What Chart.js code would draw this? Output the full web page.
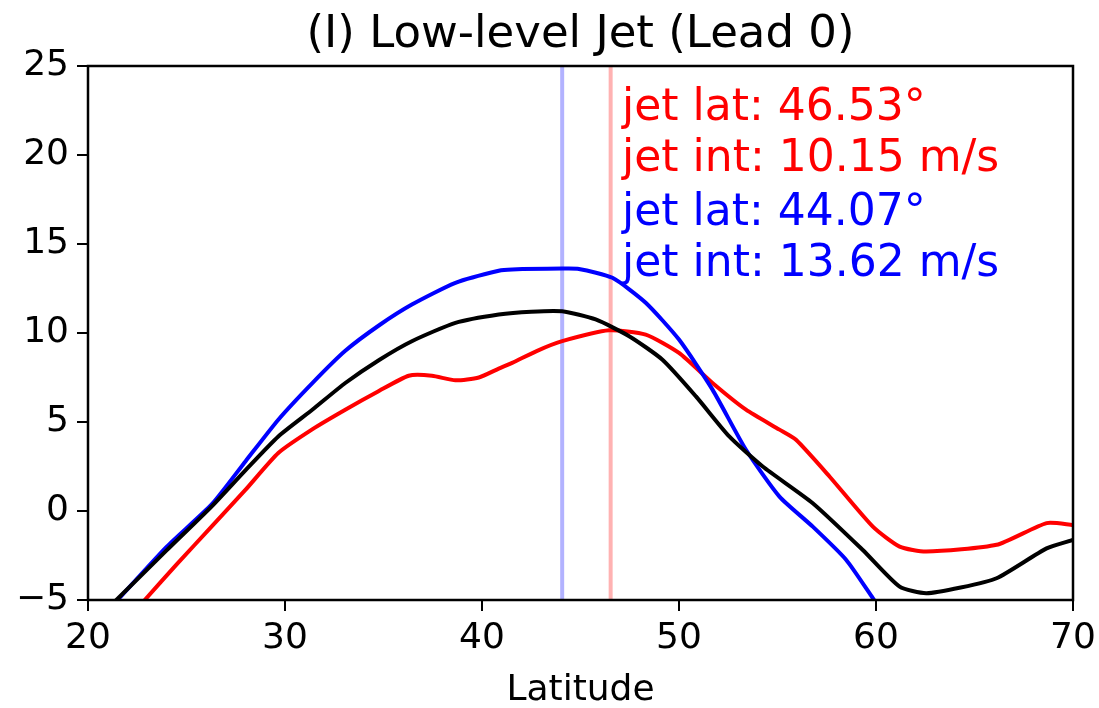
<!DOCTYPE html>
<html>
<head>
<meta charset="utf-8">
<script src="https://cdn.jsdelivr.net/npm/chart.js@4"></script>
<style>
  html, body { margin: 0; padding: 0; background: #fff; }
  #wrap { width: 1099px; height: 708px; }
</style>
</head>
<body>
<div id="wrap"><canvas id="jetChart" width="1099" height="708"></canvas></div>
<script>
// values
const blackLat = [20, 21.44, 24, 26.27, 28, 29.66, 31.4, 33.06, 34.8, 36.44, 38.65, 40.85, 42.5, 44.07, 45.77, 47.47, 49.16, 50.86, 52.55, 54.25, 56.79, 59.33, 61.2, 62.55, 64.3, 66.12, 68.66, 70];
const blackVal = [-6.6, -5, -2.2, 0.25, 2.3, 4.19, 5.7, 7.19, 8.5, 9.54, 10.57, 11.04, 11.2, 11.22, 10.76, 9.82, 8.5, 6.44, 4.19, 2.5, 0.44, -2.19, -4.25, -4.62, -4.3, -3.78, -2.1, -1.62];

const blueLat = [20, 21.5, 24, 26.3, 28, 29.66, 31.4, 33.06, 34.8, 36.44, 38.65, 40.85, 41.53, 44.07, 44.92, 46.62, 48.31, 50.0, 51.7, 53.4, 55.1, 56.79, 58.49, 59.84, 60.5];
const blueVal = [-6.8, -5, -2.0, 0.4, 2.8, 5.13, 7.2, 9.0, 10.45, 11.6, 12.82, 13.5, 13.57, 13.62, 13.6, 13.1, 11.7, 9.63, 6.82, 3.44, 0.81, -0.88, -2.75, -4.9, -6.0];

const redLat = [20, 22.88, 24.5, 26.27, 28, 29.66, 31.4, 33.06, 34.7, 36.28, 37.46, 38.65, 39.84, 40.85, 41.53, 42.8, 44.07, 46.45, 48.31, 50.0, 51.7, 53.4, 55.1, 55.94, 57.64, 59.84, 61.2, 62.55, 66.12, 68.66, 70];
const redVal = [-8.5, -5, -3.0, -0.88, 1.2, 3.26, 4.6, 5.69, 6.7, 7.6, 7.6, 7.34, 7.5, 8.0, 8.32, 9.0, 9.54, 10.15, 9.91, 8.88, 7.19, 5.69, 4.57, 4.0, 1.94, -0.88, -2.0, -2.28, -1.9, -0.68, -0.78];

const xTicks = [20, 30, 40, 50, 60, 70];
const yTicks = [-5, 0, 5, 10, 15, 20, 25];

const jetLatRed = 46.53, jetIntRed = 10.15;
const jetLatBlue = 44.07, jetIntBlue = 13.62;

const titleText = '(I) Low-level Jet (Lead 0)';
const FONT = "'DejaVu Sans', sans-serif";

function pts(xs, ys) {
    return xs.map((x, i) => ({ x: x, y: ys[i] }));
}

// frame, title and jet text, the way matplotlib draws them
const framePlugin = {
    id: 'frame',
    afterDraw(chart) {
        const a = chart.chartArea;
        const c = chart.ctx;
        c.save();
        c.strokeStyle = '#000';
        c.lineWidth = 2.5;
        c.strokeRect(a.left, a.top, a.right - a.left, a.bottom - a.top);

        c.fillStyle = '#000';
        c.font = '45px ' + FONT;
        c.textAlign = 'center';
        c.textBaseline = 'alphabetic';
        c.fillText(titleText, (a.left + a.right) / 2, 47);

        c.font = '44px ' + FONT;
        c.textAlign = 'left';
        const tx = 622;
        c.fillStyle = '#ff0000';
        c.fillText('jet lat: ' + jetLatRed.toFixed(2) + '°', tx, 120);
        c.fillText('jet int: ' + jetIntRed.toFixed(2) + ' m/s', tx, 171);
        c.fillStyle = '#0000ff';
        c.fillText('jet lat: ' + jetLatBlue.toFixed(2) + '°', tx, 225);
        c.fillText('jet int: ' + jetIntBlue.toFixed(2) + ' m/s', tx, 276);
        c.restore();
    }
};

const ctx = document.getElementById('jetChart');

new Chart(ctx, {
    type: 'scatter',
    plugins: [framePlugin],
    data: {
        datasets: [
            {
                label: 'black',
                data: pts(blackLat, blackVal),
                showLine: true,
                borderColor: '#000000',
                borderWidth: 4,
                pointRadius: 0,
                tension: 0.2
            },
            {
                label: 'blue',
                data: pts(blueLat, blueVal),
                showLine: true,
                borderColor: '#0000ff',
                borderWidth: 4,
                pointRadius: 0,
                tension: 0.2
            },
            {
                label: 'red',
                data: pts(redLat, redVal),
                showLine: true,
                borderColor: '#ff0000',
                borderWidth: 4,
                pointRadius: 0,
                tension: 0.2
            },
            {
                label: 'blue jet lat',
                data: [{ x: jetLatBlue, y: -5 }, { x: jetLatBlue, y: 25 }],
                showLine: true,
                borderColor: 'rgba(0,0,255,0.3)',
                borderWidth: 4,
                pointRadius: 0
            },
            {
                label: 'red jet lat',
                data: [{ x: jetLatRed, y: -5 }, { x: jetLatRed, y: 25 }],
                showLine: true,
                borderColor: 'rgba(255,0,0,0.3)',
                borderWidth: 4,
                pointRadius: 0
            }
        ]
    },
    options: {
        responsive: false,
        animation: false,
        layout: { padding: { left: 0, right: 26, top: 66, bottom: 0 } },
        plugins: {
            legend: { display: false },
            tooltip: { enabled: false },
            title: { display: false }
        },
        scales: {
            x: {
                type: 'linear',
                min: 20,
                max: 70,
                afterFit: (s) => { s.height = 108; s.paddingLeft = 0; s.paddingRight = 0; },
                afterBuildTicks: (s) => { s.ticks = xTicks.map(v => ({ value: v })); },
                grid: { drawOnChartArea: false, drawTicks: true, tickLength: 11, color: '#000', lineWidth: 2 },
                border: { display: false },
                ticks: {
                    color: '#000',
                    padding: 6,
                    font: { family: FONT, size: 36 },
                    maxRotation: 0
                },
                title: {
                    display: true,
                    text: 'Latitude',
                    color: '#000',
                    font: { family: FONT, size: 36 },
                    padding: { top: 0, bottom: -4 }
                }
            },
            y: {
                type: 'linear',
                min: -5,
                max: 25,
                afterFit: (s) => { s.width = 88; s.paddingTop = 0; s.paddingBottom = 0; },
                afterBuildTicks: (s) => { s.ticks = yTicks.map(v => ({ value: v })); },
                grid: { drawOnChartArea: false, drawTicks: true, tickLength: 11, color: '#000', lineWidth: 2 },
                border: { display: false },
                ticks: {
                    color: '#000',
                    padding: 8,
                    font: { family: FONT, size: 36 },
                    callback: (v) => (v < 0 ? '\u2212' + Math.abs(v) : String(v))
                }
            }
        }
    }
});
</script>
</body>
</html>
